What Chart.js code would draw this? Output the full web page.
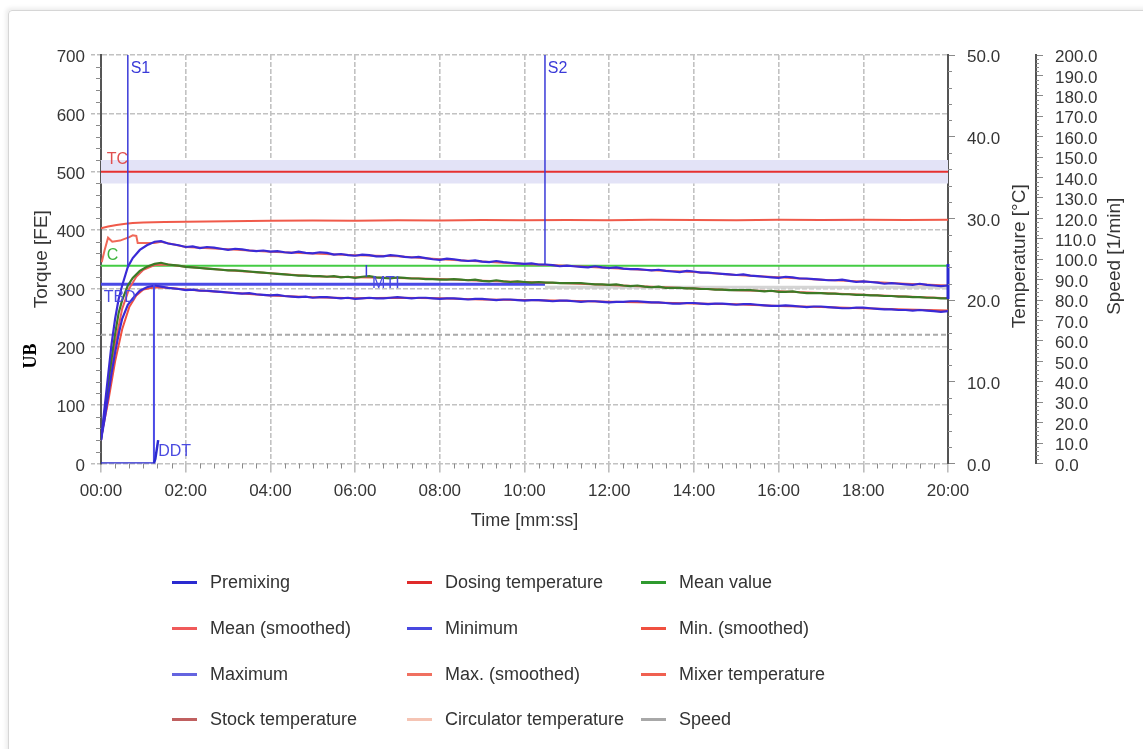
<!DOCTYPE html>
<html><head><meta charset="utf-8">
<script src="https://cdn.jsdelivr.net/npm/chart.js@4.4.1/dist/chart.umd.min.js"></script>
<style>
html,body{margin:0;padding:0;background:#fff;width:1143px;height:749px;overflow:hidden;font-family:"Liberation Sans",Arial,sans-serif;}
#frame{position:absolute;left:8px;top:10px;width:1160px;height:760px;border:1px solid #d6d6d6;border-radius:4px;box-shadow:-2px -2px 4px rgba(0,0,0,0.08);}
#wrap{position:absolute;left:0;top:0;width:1143px;height:545px;}
#legend{position:absolute;left:0;top:0;width:1143px;height:749px;}
.item{position:absolute;height:22px;display:flex;align-items:center;font-size:18px;color:#333;white-space:nowrap;}
.swatch{width:25px;height:3px;margin-right:13px;flex:none;}
#ub{position:absolute;left:9px;top:322px;width:41px;height:68px;background:#fff;}
#ub span{position:absolute;left:50%;top:50%;transform:translate(-50%,-50%) rotate(-90deg);font-family:"Liberation Serif","Times New Roman",serif;font-weight:bold;font-size:18px;color:#000;}
</style></head>
<body>
<div id="frame"></div>
<div id="wrap"><canvas id="c"></canvas></div>
<div id="legend"></div>
<div id="ub"><span>UB</span></div>
<script>
// ---------- data ----------
const xTickLabels = ['00:00','02:00','04:00','06:00','08:00','10:00','12:00','14:00','16:00','18:00','20:00'];

const timeMain = [0,5,10,15,20,25,30,38,45,55,65,76,85,95,110,
  120,130,140,150,160,170,180,190,200,210,
  220,230,240,250,260,270,280,290,300,310,
  320,330,340,350,360,370,380,390,400,410,
  420,430,440,450,460,470,480,490,500,510,
  520,530,540,550,560,570,580,590,600,610,
  620,630,640,650,660,670,680,690,700,710,
  720,730,740,750,760,770,780,790,800,810,
  820,830,840,850,860,870,880,890,900,910,
  920,930,940,950,960,970,980,990,1000,1010,
  1020,1030,1040,1050,1060,1070,1080,1090,1100,1110,
  1120,1130,1140,1150,1160,1170,1180,1190,1200];
const maximumValues = [40,95,150,205,248,282,305,337,352,366,374,380,381,377,374,
  371,372,369,371,370,368,366,368,367,365,
  364,365,363,364,362,361,363,361,360,362,
  361,358,359,357,356,358,357,355,355,357,
  356,354,353,354,352,350,349,351,350,348,
  347,348,346,345,347,345,344,343,342,343,
  341,341,340,338,339,338,337,336,338,336,
  335,336,334,333,333,332,331,332,330,329,
  328,330,329,327,327,326,325,324,323,324,
  322,321,320,319,318,320,319,317,317,316,
  315,314,314,315,313,311,312,311,310,308,
  309,308,307,306,308,306,305,304,305];
const minimumValues = [40,75,115,155,190,222,248,272,283,296,302,305,303,301,299,
  297,298,296,296,295,294,293,292,291,292,
  290,289,288,289,287,286,285,286,284,285,
  285,284,283,284,282,283,284,283,283,284,
  285,284,283,284,284,283,282,283,283,282,
  281,282,282,281,280,281,281,280,279,280,
  280,279,278,279,279,278,277,278,278,277,
  276,277,277,278,278,277,276,276,275,274,
  274,275,275,274,273,274,274,273,272,273,
  273,272,271,270,270,271,270,269,268,269,
  269,268,267,266,266,267,267,266,265,264,
  264,263,263,262,263,262,261,260,261];
const meanValues = [40,85,135,180,222,258,280,305,318,330,337,342,344,341,339,
  337,336,335,334,333,332,331,331,330,329,
  328,327,326,325,324,323,322,322,321,321,
  320,321,319,320,318,320,321,319,318,317,
  319,318,317,317,316,316,315,315,316,315,
  314,315,313,312,314,312,311,312,311,310,
  311,310,310,309,309,309,309,308,307,307,
  306,307,305,304,305,303,302,303,301,301,
  301,300,300,299,299,298,298,297,297,297,
  297,296,295,296,294,294,295,293,292,292,
  292,291,291,290,290,289,289,288,288,287,
  287,286,286,285,285,284,284,283,283];

const timeSmooth = [0,10,20,30,40,50,60,76,95,120,180,240,300,360,420,480,540,600,660,720,780,840,900,960,1020,1080,1140,1200];
const minSmoothValues  = [45,105,175,230,268,288,298,302,301,298,293,288,285,283,284,283,281,280,279,277,276,274,273,270,268,266,264,262];
const meanSmoothValues = [40,120,205,265,300,320,332,340,341,337,331,326,321,319,318,316,313,311,309,306,303,300,297,295,292,289,286,283];

const timeMaxSmooth = [1,5,10,16,27,40,45,50,52,76,85,120,180,240,300,360,420,480,540,600,660,720,780,840,900,960,1020,1080,1140,1200];
const maxSmoothValues = [345,365,387,380,382,388,391,390,378,378,380,371,367,363,360,357,355,350,346,342,339,335,331,328,323,319,315,312,308,305];

const timeTemp = [0,10,22,35,45,60,90,120,180,240,300,360,420,480,540,600,660,720,780,840,900,960,1020,1080,1140,1200];
const mixerTempValues = [28.8,29.0,29.2,29.35,29.45,29.5,29.55,29.6,29.65,29.7,29.75,29.72,29.78,29.75,29.8,29.77,29.8,29.78,29.82,29.8,29.78,29.82,29.8,29.83,29.8,29.82];

const timePremix = [0,75,77,81];
const premixValues = [0,0,8,40];

const timeFull = [0,1200];
const tcLevel = [500,500];
const tcBandHigh = [520,520];
const tcBandLow = 480;
const consistencyLevel = [339,339];
const tbdTimes = [0,629];
const tbdLevel = [307,307];
const speedLevel = [63,63];
const lateTimes = [629,1200];
const lateLevel = [302,302];
const endTimes = [1200,1200];
const endValues = [282,342];

const markerTimes  = [38,629,75,376];
const markerTop    = [700,700,307,340];
const markerBottom = [335,341,0,320];

const noteTexts  = ['S1','S2','TC','C','TBD','MTI','DDT'];
const noteTimes  = [42,633,8,8,4,384,81];
const noteValues = [676,676,520,356,285,309,20];
const noteColors = ['#3a3ad8','#3a3ad8','#e05050','#3cb43c','#4a4ae0','#4a4ae0','#4a4ae0'];

const legendNames = ['Premixing','Dosing temperature','Mean value','Mean (smoothed)','Minimum','Min. (smoothed)',
  'Maximum','Max. (smoothed)','Mixer temperature','Stock temperature','Circulator temperature','Speed'];
const legendColors = ['#2a2ad0','#e02a2a','#2f9a2f','#f05a5a','#4848e0','#f05040',
  '#6464e0','#f07060','#f06050','#c06060','#f5c4b4','#a8a8a8'];

// ---------- helpers ----------
const pts = (xs, ys) => xs.map((x,i)=>({x:x, y:Array.isArray(ys)?ys[i]:ys}));
const line = (data, color, width, order, extra) => Object.assign({data:data, borderColor:color, backgroundColor:color,
  borderWidth:width, pointRadius:0, tension:0, fill:false, order:order, yAxisID:'y'}, extra||{});

const datasets = [
  line(pts(timeFull, tcBandHigh), 'rgba(0,0,0,0)', 0, 30, {fill:{value:tcBandLow}, backgroundColor:'#e3e3f7'}),
  line(pts(timeFull, speedLevel), '#a9a9a9', 2, 25, {yAxisID:'y2', borderDash:[5,3]}),
  line(pts(lateTimes, lateLevel), '#d4d4d4', 3, 24),
  line(pts(timeFull, tcLevel), '#e63030', 2, 20),
  line(pts(timeTemp, mixerTempValues), '#f05a4a', 2, 19, {yAxisID:'y1'}),
  line(pts(timeFull, consistencyLevel), '#44cc44', 2, 18),
  line(pts(tbdTimes, tbdLevel), '#4a4ae6', 3, 17),
  line(pts(timeSmooth, minSmoothValues), '#f05040', 2, 12),
  line(pts(timeSmooth, meanSmoothValues), '#f05a5a', 2, 12),
  line(pts(timeMaxSmooth, maxSmoothValues), '#f06858', 2, 12),
  line(pts(timeMain, meanValues), '#3c7a26', 2.2, 8),
  line(pts(timeMain, minimumValues), '#3a2ad6', 2.2, 7),
  line(pts(timeMain, maximumValues), '#3a2ad6', 2.2, 7),
  line(pts(timePremix, premixValues), '#2a2ad0', 2.5, 3),
  line(pts(endTimes, endValues), '#2a2ad0', 3, 3, {clip:6}),
];
markerTimes.forEach((t,i)=>{
  datasets.push(line([{x:t,y:markerTop[i]},{x:t,y:markerBottom[i]}], i===2?'#4a4ae6':'#3a3ad8', i===2?2:1.5, 4));
});

// ---------- plugins ----------
const minorTicks = {
  id:'minorTicks',
  afterDraw(chart){
    const {ctx, scales} = chart;
    ctx.save(); ctx.strokeStyle = '#8a8a8a'; ctx.lineWidth = 1;
    const ys = scales.y, xs = scales.x, y1 = scales.y1, y2 = scales.y2;
    ctx.beginPath();
    for (let v = 20; v < 700; v += 20) { if (v % 100 === 0) continue; const p = Math.round(ys.getPixelForValue(v))+0.5; ctx.moveTo(ys.right-5,p); ctx.lineTo(ys.right,p); }
    for (let v = 20; v < 1200; v += 20) { if (v % 120 === 0) continue; const p = Math.round(xs.getPixelForValue(v))+0.5; ctx.moveTo(p,xs.top); ctx.lineTo(p,xs.top+5); }
    for (let v = 2; v < 50; v += 2) { if (v % 10 === 0) continue; const p = Math.round(y1.getPixelForValue(v))+0.5; ctx.moveTo(y1.left,p); ctx.lineTo(y1.left+4,p); }
    for (let v = 2; v < 200; v += 2) { if (v % 10 === 0) continue; const p = Math.round(y2.getPixelForValue(v))+0.5; ctx.moveTo(y2.left,p); ctx.lineTo(y2.left+3,p); }
    ctx.stroke();
    ctx.fillStyle = '#353535'; ctx.font = '19px "Liberation Sans", Arial, sans-serif';
    ctx.textAlign = 'center'; ctx.textBaseline = 'middle';
    const cy = (chart.chartArea.top + chart.chartArea.bottom)/2 - 3;
    [[y1.right-16,'Temperature [°C]'],[y2.right-28,'Speed [1/min]']].forEach(([x,t])=>{
      ctx.save(); ctx.translate(x,cy); ctx.rotate(-Math.PI/2); ctx.fillText(t,0,0); ctx.restore();
    });
    ctx.restore();
  }
};
const notes = {
  id:'notes',
  afterDatasetsDraw(chart){
    const {ctx, scales} = chart;
    ctx.save(); ctx.font = '16px "Liberation Sans", Arial, sans-serif'; ctx.textAlign='left'; ctx.textBaseline='middle';
    noteTexts.forEach((t,i)=>{
      ctx.fillStyle = noteColors[i];
      ctx.fillText(t, scales.x.getPixelForValue(noteTimes[i]), scales.y.getPixelForValue(noteValues[i]));
    });
    ctx.restore();
  }
};

// ---------- chart ----------
Chart.defaults.font.family = '"Liberation Sans", Arial, sans-serif';
Chart.defaults.font.size = 17;
Chart.defaults.color = '#353535';
const gridColor = '#c2c2c2';

new Chart(document.getElementById('c'), {
  type:'line',
  data:{datasets:datasets},
  options:{
    responsive:true, maintainAspectRatio:false, animation:false, events:[],
    layout:{padding:{top:55,left:0,right:0,bottom:0}},
    plugins:{legend:{display:false}, tooltip:{enabled:false}},
    scales:{
      x:{type:'linear', min:0, max:1200, position:'bottom',
        afterFit(s){ s.height = 81.5; },
        ticks:{stepSize:120, maxRotation:0, autoSkip:false, padding:9, callback:(v,i)=>xTickLabels[i]},
        grid:{color:gridColor, lineWidth:1.6, tickLength:9, tickColor:'#bdbdbd'},
        border:{display:false, dash:[5,2]},
        title:{display:true, text:'Time [mm:ss]', font:{size:18}, padding:{top:0,bottom:13}}
      },
      y:{type:'linear', min:0, max:700, position:'left',
        afterFit(s){ s.width = 101; },
        ticks:{stepSize:100, autoSkip:false, padding:6, labelOffset:2.5},
        grid:{color:gridColor, lineWidth:1.6, tickLength:10, tickColor:'#bdbdbd', tickBorderDash:[4,2]},
        border:{display:true, color:'#555', width:2, dash:[5,2]},
        title:{display:true, text:'Torque [FE]', font:{size:19}, padding:{top:30,bottom:0}}
      },
      y1:{type:'linear', min:0, max:50, position:'right', weight:0,
        afterFit(s){ s.width = 88; },
        ticks:{stepSize:10, autoSkip:false, padding:12, labelOffset:2.5, callback:v=>v.toFixed(1)},
        grid:{drawOnChartArea:false, tickLength:7, tickColor:'#8a8a8a', lineWidth:1},
        border:{display:true, color:'#555', width:2}
      },
      y2:{type:'linear', min:0, max:200, position:'right', weight:1,
        afterFit(s){ s.width = 107; },
        ticks:{stepSize:10, autoSkip:false, padding:12, labelOffset:2.5, callback:v=>v.toFixed(1)},
        grid:{drawOnChartArea:false, tickLength:7, tickColor:'#8a8a8a', lineWidth:1},
        border:{display:true, color:'#555', width:2}
      }
    }
  },
  plugins:[minorTicks, notes]
});

// ---------- legend ----------
const colX = [172, 407, 641];
const rowY = [582, 628, 674, 719];
const lg = document.getElementById('legend');
legendNames.forEach((n,i)=>{
  const d = document.createElement('div'); d.className='item';
  d.style.left = colX[i%3]+'px'; d.style.top = (rowY[Math.floor(i/3)]-11)+'px';
  const s = document.createElement('span'); s.className='swatch'; s.style.background = legendColors[i];
  const t = document.createElement('span'); t.textContent = n;
  d.appendChild(s); d.appendChild(t); lg.appendChild(d);
});
</script>
</body></html>
